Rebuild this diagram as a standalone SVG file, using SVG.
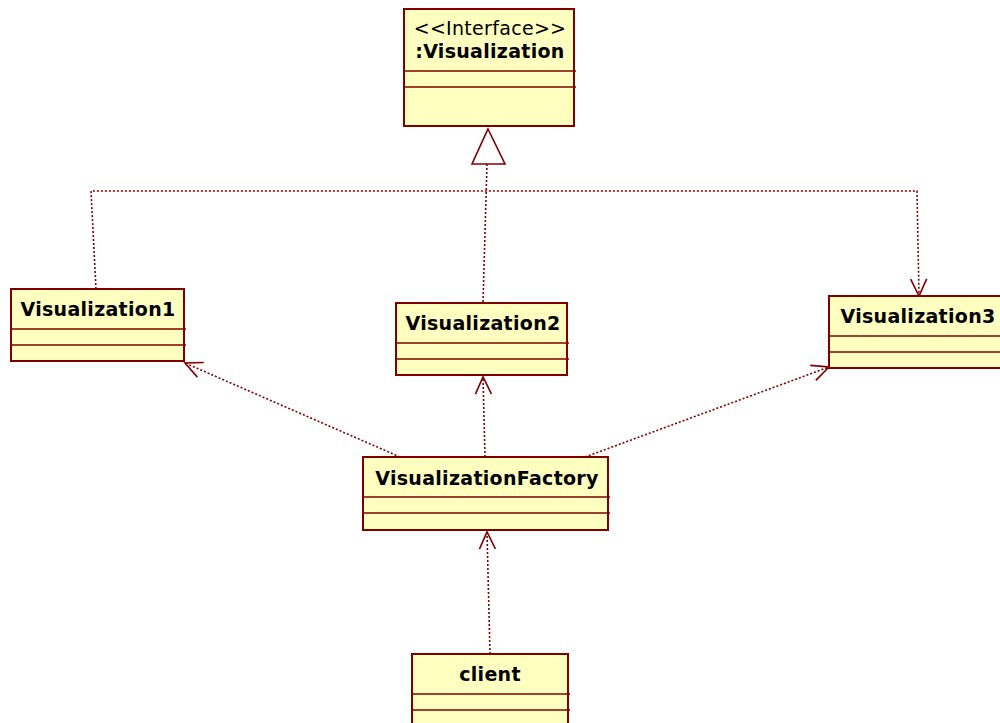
<svg xmlns="http://www.w3.org/2000/svg" width="1000" height="723" viewBox="0 0 1000 723">
<style>
.box{fill:#FFFFC0;stroke:#800000;stroke-width:2}
.sep{stroke:#800000;stroke-width:1.6}
.t{font-family:"DejaVu Sans",Verdana,sans-serif;font-size:19px;font-weight:bold;fill:#000;text-anchor:middle;letter-spacing:0.3px}
.r{font-family:"DejaVu Sans",Verdana,sans-serif;font-size:19px;fill:#000;text-anchor:middle;letter-spacing:0.3px}
.c{fill:none;stroke:#800000;stroke-width:1.6;stroke-dasharray:2 2}
.h{fill:none;stroke:#800000;stroke-width:1.6}
</style>
<defs>
<marker id="open" viewBox="0 0 20 20" refX="18" refY="10" markerWidth="20" markerHeight="20" markerUnits="userSpaceOnUse" orient="auto">
<path d="M1,2 L18,10 L1,18" fill="none" stroke="#800000" stroke-width="1.6"/>
</marker>
</defs>
<g id="connectors">
<polyline class="c" points="96,289 91,191 917,191 919,296" marker-end="url(#open)"/>
<line class="c" x1="483" y1="302" x2="487" y2="164"/>
<polygon class="h" points="488,129 505,164 472,164" fill="#fff"/>
<line class="c" x1="400" y1="457" x2="185" y2="363" marker-end="url(#open)"/>
<line class="c" x1="485" y1="457" x2="483" y2="377" marker-end="url(#open)"/>
<line class="c" x1="585" y1="457" x2="829" y2="367" marker-end="url(#open)"/>
<line class="c" x1="490" y1="654" x2="487" y2="532" marker-end="url(#open)"/>
</g>
<g id="interface">
<rect class="box" x="404" y="9" width="170" height="117"/>
<line class="sep" x1="404" y1="71" x2="576" y2="71"/>
<line class="sep" x1="404" y1="87" x2="576" y2="87"/>
<text class="r" x="490" y="35">&lt;&lt;Interface&gt;&gt;</text>
<text class="t" x="490" y="58">:Visualization</text>
</g>
<g id="visualization1">
<rect class="box" x="11" y="289" width="173" height="72"/>
<line class="sep" x1="11" y1="329" x2="186" y2="329"/>
<line class="sep" x1="11" y1="345" x2="186" y2="345"/>
<text class="t" x="98" y="316">Visualization1</text>
</g>
<g id="visualization2">
<rect class="box" x="396" y="303" width="171" height="72"/>
<line class="sep" x1="396" y1="343" x2="569" y2="343"/>
<line class="sep" x1="396" y1="359" x2="569" y2="359"/>
<text class="t" x="483" y="330">Visualization2</text>
</g>
<g id="visualization3">
<rect class="box" x="829" y="296" width="180" height="72"/>
<line class="sep" x1="829" y1="336" x2="1000" y2="336"/>
<line class="sep" x1="829" y1="352" x2="1000" y2="352"/>
<text class="t" x="918" y="323">Visualization3</text>
</g>
<g id="factory">
<rect class="box" x="363" y="457" width="245" height="73"/>
<line class="sep" x1="363" y1="497" x2="610" y2="497"/>
<line class="sep" x1="363" y1="513" x2="610" y2="513"/>
<text class="t" x="487" y="485">VisualizationFactory</text>
</g>
<g id="client">
<rect class="box" x="412" y="654" width="156" height="80"/>
<line class="sep" x1="412" y1="694" x2="570" y2="694"/>
<line class="sep" x1="412" y1="710" x2="570" y2="710"/>
<text class="t" x="490" y="681">client</text>
</g>
</svg>
